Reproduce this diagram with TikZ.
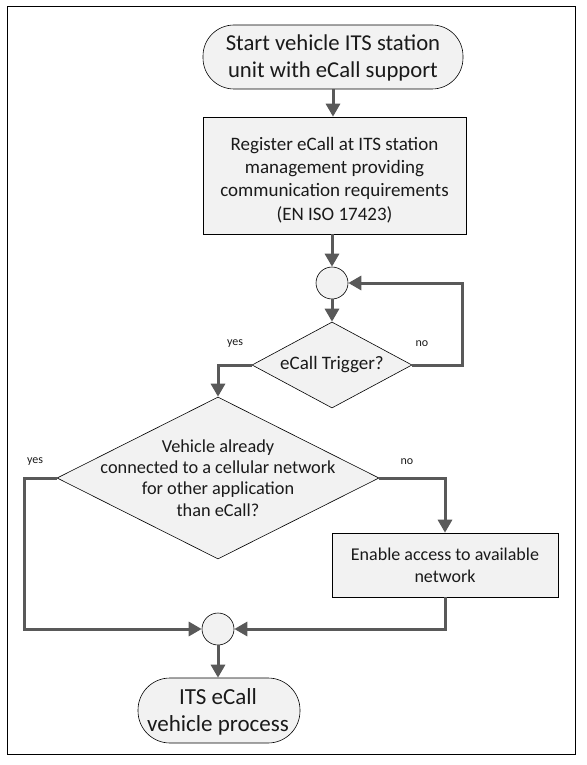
\documentclass[tikz,border=0pt]{standalone}
\usepackage{fontspec}
\setmainfont{Carlito}
\usetikzlibrary{shapes.geometric,arrows.meta}
\definecolor{shapefill}{HTML}{F2F2F2}
\definecolor{conn}{HTML}{595959}
\definecolor{txt}{HTML}{1A1A1A}
\tikzset{
  shapebase/.style={draw=black, line width=0.6pt, fill=shapefill, inner sep=0pt, text=txt},
  term/.style={shapebase, rounded corners=31pt},
  proc/.style={shapebase, rectangle},
  dia/.style={shapebase, diamond},
  joint/.style={shapebase, circle, minimum size=32pt},
  txtnode/.style={align=center, inner sep=0pt, text=txt},
  lbl/.style={inner sep=0pt, text=txt, font=\fontsize{12}{14}\selectfont},
  conn/.style={draw=conn, line width=3pt, -{Triangle[length=13pt,width=14pt]}},
  connplain/.style={draw=conn, line width=3pt}
}
\begin{document}
\begin{tikzpicture}[x=1pt,y=-1pt]
\useasboundingbox (0,0) rectangle (586,765);
\draw[line width=1pt] (7,7) rectangle (575,754);
% terminals and boxes
\node[term, minimum width=260pt, minimum height=64pt] (t1) at (333,57) {};
\node[txtnode, font=\fontsize{22.7}{26.5}\selectfont] (t1t) at (333,58) {Start vehicle ITS station\\unit with eCall support};
\node[proc, minimum width=263pt, minimum height=117pt] (b1) at (334.5,175.5) {};
\node[txtnode, font=\fontsize{19}{23.4}\selectfont] (b1t) at (334.5,180) {Register eCall at ITS station\\management providing\\communication requirements\\(EN ISO 17423)};
\node[joint] (c1) at (332,283) {};
\node[dia, minimum width=160pt, minimum height=86pt] (d1) at (332,365) {};
\node[txtnode, font=\fontsize{19}{22}\selectfont] (d1t) at (d1) {eCall Trigger?};
\node[dia, minimum width=322pt, minimum height=162pt] (d2) at (218,478) {};
\node[txtnode, font=\fontsize{18.3}{21.3}\selectfont] (d2t) at (218,478) {Vehicle already\\connected to a cellular network\\for other application\\than eCall?};
\node[proc, minimum width=226pt, minimum height=64pt] (b2) at (445,565) {};
\node[txtnode, font=\fontsize{18}{22}\selectfont] (b2t) at (b2) {Enable access to available\\network};
\node[joint] (c2) at (218,629) {};
\node[term, minimum width=162pt, minimum height=65pt, rounded corners=32pt] (t2) at (219,710.5) {};
\node[txtnode, font=\fontsize{23}{27}\selectfont] (t2t) at (218,712) {ITS eCall\\vehicle process};
% labels
\node[lbl] (y1) at (235,344) {yes};
\node[lbl] (n1) at (422,344) {no};
\node[lbl] (y2) at (35,462) {yes};
\node[lbl] (n2) at (407,462) {no};
% corner coordinates
\coordinate (l1a) at (462,365);
\coordinate (l1b) at (462,283);
\coordinate (ya) at (218,365);
\coordinate (y2a) at (24,478);
\coordinate (y2b) at (24,629);
\coordinate (n2a) at (445,478);
\coordinate (b2a) at (445,629);
% connectors
\draw[conn] (t1.south) -- (b1.north -| t1.south);
\draw[conn] (b1.south -| c1.north) -- (c1.north);
\draw[conn] (c1.south) -- (d1.north);
\draw[conn] (d1.east) -- (l1a) -- (l1b) -- (c1.east);
\draw[conn] (d1.west) -- (ya) -- (d2.north);
\draw[conn] (d2.west) -- (y2a) -- (y2b) -- (c2.west);
\draw[conn] (d2.east) -- (n2a) -- (b2.north);
\draw[conn] (b2.south) -- (b2a) -- (c2.east);
\draw[conn] (c2.south) -- (t2.north -| c2.south);
\end{tikzpicture}
\end{document}
